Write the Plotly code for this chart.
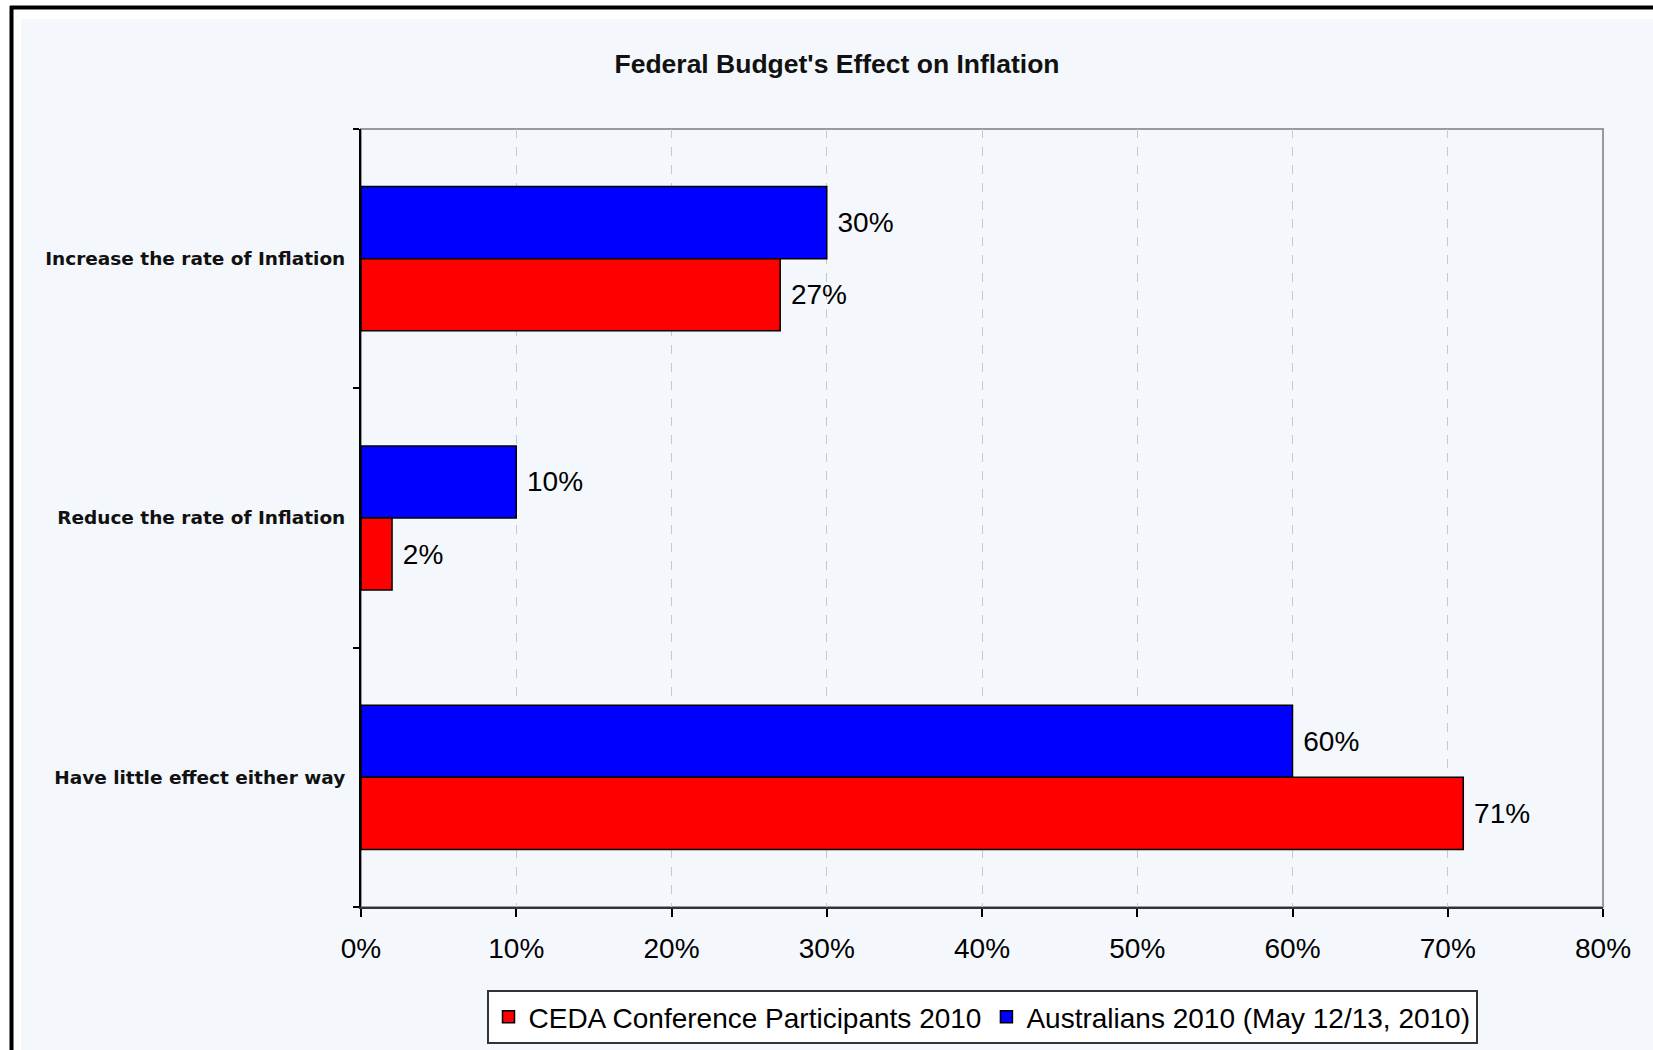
import plotly.graph_objects as go

categories = ["Increase the rate of Inflation", "Reduce the rate of Inflation", "Have little effect either way"]
ceda_2010 = [27, 2, 71]
australians_2010 = [30, 10, 60]
x_ticks = [0, 10, 20, 30, 40, 50, 60, 70, 80]

# figure geometry (pixels) -> paper coords
W, H = 1653, 1050
L, R, T, B = 361, 50, 129, 143
pw, ph = W - L - R, H - T - B


def px(x):
    return (x - L) / pw


def py(y):
    return (H - B - y) / ph


bg = "#F4F8FC"
font = "Liberation Sans, Arial, sans-serif"

fig = go.Figure()
# blue first so it sits on top in each group (reversed y axis)
fig.add_trace(go.Bar(
    y=categories, x=australians_2010, orientation="h",
    name="Australians 2010 (May 12/13, 2010)",
    marker=dict(color="#0000FF", line=dict(color="black", width=1.5)),
    text=[f" {v}%" for v in australians_2010], textposition="outside",
    textfont=dict(size=28, color="black"), legendrank=2, cliponaxis=False,
))
fig.add_trace(go.Bar(
    y=categories, x=ceda_2010, orientation="h",
    name="CEDA Conference Participants 2010",
    marker=dict(color="#FF0000", line=dict(color="black", width=1.5)),
    text=[f" {v}%" for v in ceda_2010], textposition="outside",
    textfont=dict(size=28, color="black"), legendrank=1, cliponaxis=False,
))

shapes = [
    # white strips round the light chart area
    dict(type="rect", xref="paper", yref="paper", x0=px(-5), x1=px(21), y0=py(H + 5), y1=py(-5),
         fillcolor="white", line=dict(width=0)),
    dict(type="rect", xref="paper", yref="paper", x0=px(-5), x1=px(W + 5), y0=py(19), y1=py(-5),
         fillcolor="white", line=dict(width=0)),
    # black frame on the left and top
    dict(type="line", xref="paper", yref="paper", x0=px(11.5), x1=px(11.5), y0=py(6), y1=py(H + 5),
         line=dict(color="black", width=4)),
    dict(type="line", xref="paper", yref="paper", x0=px(10), x1=px(W + 5), y0=py(7.5), y1=py(7.5),
         line=dict(color="black", width=4)),
    # grey plot frame
    dict(type="rect", xref="paper", yref="paper", x0=0, x1=1, y0=0, y1=1,
         line=dict(color="#999999", width=2), layer="below"),
]

fig.update_layout(
    width=W, height=H,
    margin=dict(l=L, r=R, t=T, b=B, autoexpand=False),
    paper_bgcolor=bg, plot_bgcolor=bg,
    barmode="group", bargap=0.444, bargroupgap=0,
    font=dict(family=font, color="black"),
    title=dict(text="<b>Federal Budget's Effect on Inflation</b>", x=837 / W, xref="container", xanchor="center",
               y=1 - 64 / H, yref="container", yanchor="middle",
               font=dict(size=26.5, color="#111111", family=font)),
    xaxis=dict(range=[0, 80], tickvals=x_ticks, ticktext=[f"{v}%" for v in x_ticks],
               showgrid=True, gridcolor="#C8C8C8", griddash="dash", gridwidth=1,
               showline=True, linecolor="#333333", linewidth=2,
               ticks="outside", ticklen=8, tickcolor="black", tickwidth=2,
               tickfont=dict(size=28, color="black"), ticklabelstandoff=7, zeroline=False),
    yaxis=dict(autorange="reversed", tickson="boundaries", ticks="outside", ticklen=6,
               tickcolor="black", tickwidth=2, showline=True, linecolor="black", linewidth=2,
               showgrid=False, tickfont=dict(size=18.5, color="#111111", family="DejaVu Sans, Verdana, sans-serif"),
               ticklabelstandoff=10),
    legend=dict(orientation="h", x=0.5, xanchor="center", y=py(990), yanchor="top",
                bgcolor="white", bordercolor="#333333", borderwidth=2,
                font=dict(size=28, color="black"), itemwidth=30, tracegroupgap=0),
    showlegend=True,
    shapes=shapes,
)
# bold category labels
fig.update_yaxes(ticktext=[f"<b>{c}</b>" for c in categories], tickvals=categories)

# drop the default page margin so the figure starts at the window corner
fig.write_html("out.html", config={"displayModeBar": False},
               post_script="document.body.style.margin='0';")
